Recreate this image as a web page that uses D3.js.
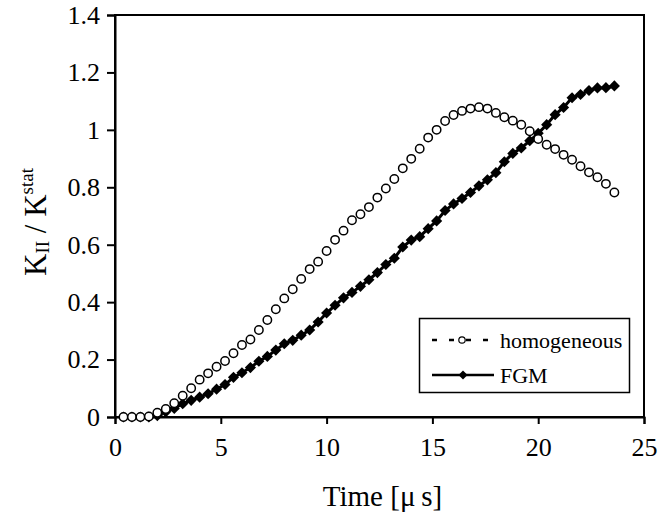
<!DOCTYPE html>
<html>
<head>
<meta charset="utf-8">
<script src="https://cdn.jsdelivr.net/npm/d3@7"></script>
<style>
  html, body { margin: 0; padding: 0; background: #fff; }
  svg { display: block; }
  svg text { font-family: "Liberation Serif", serif; }
</style>
</head>
<body>
<svg id="chart" width="668" height="514"></svg>
<script>
// ---- Data ----
const time = [0.4,0.8,1.2,1.6,2.0,2.4,2.8,3.2,3.6,4.0,4.4,4.8,5.2,5.6,6.0,6.4,6.8,7.2,7.6,8.0,
  8.4,8.8,9.2,9.6,10.0,10.4,10.8,11.2,11.6,12.0,12.4,12.8,13.2,13.6,14.0,14.4,14.8,15.2,15.6,16.0,
  16.4,16.8,17.2,17.6,18.0,18.4,18.8,19.2,19.6,20.0,20.4,20.8,21.2,21.6,22.0,22.4,22.8,23.2,23.6];
const homogeneous = [0,0,0,0.002,0.015,0.028,0.048,0.074,0.1,0.13,0.152,0.175,0.195,0.222,0.251,0.27,0.303,0.338,0.375,0.413,
  0.445,0.481,0.515,0.541,0.578,0.617,0.649,0.685,0.706,0.731,0.764,0.796,0.829,0.866,0.899,0.934,0.973,1.0,1.031,1.052,
  1.066,1.074,1.079,1.074,1.059,1.044,1.032,1.018,0.995,0.968,0.948,0.933,0.913,0.896,0.873,0.852,0.835,0.812,0.782];
const fgm = [0,0,0,0,0.005,0.018,0.03,0.046,0.058,0.069,0.081,0.097,0.113,0.138,0.154,0.172,0.194,0.211,0.233,0.255,
  0.267,0.285,0.303,0.331,0.362,0.389,0.415,0.434,0.455,0.478,0.503,0.531,0.553,0.592,0.616,0.628,0.656,0.683,0.719,0.742,
  0.761,0.782,0.805,0.826,0.851,0.889,0.918,0.937,0.962,0.988,1.018,1.053,1.078,1.112,1.123,1.137,1.146,1.147,1.153];
const xTicks = [0,5,10,15,20,25];
const yTicks = [0,0.2,0.4,0.6,0.8,1,1.2,1.4];
const seriesNames = ["homogeneous","FGM"];

// ---- Layout ----
const FONT = "Liberation Serif";
const svg = d3.select("#chart");
const L = 115, R = 644, T = 15, B = 417;
const x = d3.scaleLinear().domain([0,25]).range([L,R]);
const y = d3.scaleLinear().domain([0,1.4]).range([B,T]);

// frame
svg.append("rect").attr("x",L).attr("y",T).attr("width",R-L).attr("height",B-T)
  .attr("fill","none").attr("stroke","#000").attr("stroke-width",2);

// axes
const xAxis = d3.axisBottom(x).tickValues(xTicks).tickSizeOuter(0).tickSize(7).tickPadding(14)
  .tickFormat(d3.format("d"));
const gx = svg.append("g").attr("transform",`translate(0,${B})`).call(xAxis);
const yAxis = d3.axisLeft(y).tickValues(yTicks).tickSizeOuter(0).tickSize(8).tickPadding(7)
  .tickFormat(d => String(+d.toFixed(1)));
const gy = svg.append("g").attr("transform",`translate(${L},0)`).call(yAxis);
[gx, gy].forEach(g => {
  g.attr("font-family", FONT).attr("font-size", 26);
  g.select(".domain").attr("stroke","#000").attr("stroke-width",2);
  g.selectAll(".tick line").attr("stroke","#000").attr("stroke-width",2);
  g.selectAll(".tick text").attr("font-family",FONT).attr("font-size",26).attr("fill","#000");
});

// axis titles
svg.append("text").attr("x",(L+R)/2 + 3).attr("y",506).attr("text-anchor","middle")
  .attr("font-family",FONT).attr("font-size",29).text("Time [\u03bc\u2009s]");
const yt = svg.append("text").attr("transform",`translate(46,${(T+B)/2 + 6}) rotate(-90)`)
  .attr("text-anchor","middle").attr("font-family",FONT).attr("font-size",31);
yt.append("tspan").text("K");
yt.append("tspan").attr("font-size",19).attr("dy",3).text("II");
yt.append("tspan").attr("dy",-3).text(" / K");
yt.append("tspan").attr("font-size",19).attr("dy",-13).text("stat");

// series data
const hData = time.map((t,i) => ({t, v: homogeneous[i]}));
const fData = time.map((t,i) => ({t, v: fgm[i]}));
const line = d3.line().x(d => x(d.t)).y(d => y(d.v));

// FGM
svg.append("path").datum(fData).attr("d",line).attr("fill","none")
  .attr("stroke","#000").attr("stroke-width",3);
svg.append("g").selectAll("path").data(fData).join("path")
  .attr("d", d3.symbol().type(d3.symbolSquare).size(62))
  .attr("transform",d => `translate(${x(d.t)},${y(d.v)}) rotate(45)`)
  .attr("fill","#000");

// homogeneous (markers only visible)
svg.append("g").selectAll("circle").data(hData).join("circle")
  .attr("cx",d => x(d.t)).attr("cy",d => y(d.v)).attr("r",4.2)
  .attr("fill","#fff").attr("stroke","#000").attr("stroke-width",1.5);

// legend
const lg = svg.append("g");
lg.append("rect").attr("x",419.5).attr("y",318.5).attr("width",210).attr("height",74)
  .attr("fill","#fff").attr("stroke","#000").attr("stroke-width",1.5);
const ly = [340, 375];
lg.append("line").attr("x1",432).attr("x2",494).attr("y1",ly[0]).attr("y2",ly[0])
  .attr("stroke","#000").attr("stroke-width",2.5).attr("stroke-dasharray","5,12");
lg.append("circle").attr("cx",462).attr("cy",ly[0]).attr("r",3.2)
  .attr("fill","#fff").attr("stroke","#000").attr("stroke-width",1.2);
lg.append("line").attr("x1",432).attr("x2",494).attr("y1",ly[1]).attr("y2",ly[1])
  .attr("stroke","#000").attr("stroke-width",2.5);
lg.append("path").attr("d", d3.symbol().type(d3.symbolSquare).size(40))
  .attr("transform",`translate(463,${ly[1]}) rotate(45)`).attr("fill","#000");
lg.selectAll("text.lab").data(seriesNames).join("text").attr("class","lab")
  .attr("x",500).attr("y",(d,i) => ly[i]+8).attr("font-family",FONT).attr("font-size",22)
  .attr("fill","#000").text(d => d);
</script>
</body>
</html>
